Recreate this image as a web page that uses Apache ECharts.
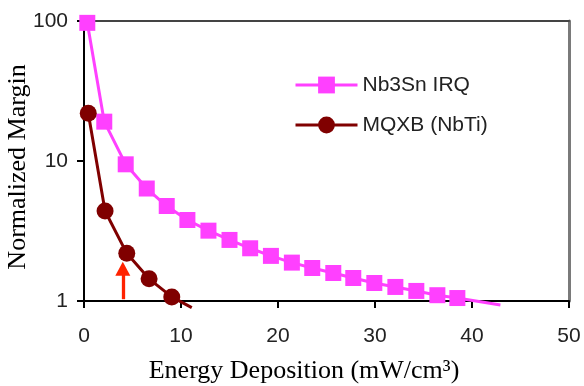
<!DOCTYPE html>
<html>
<head>
<meta charset="utf-8">
<script src="https://cdn.jsdelivr.net/npm/echarts@6/dist/echarts.min.js"></script>
<style>html,body{margin:0;padding:0;background:#fff}#c{width:584px;height:386px}</style>
</head>
<body>
<div id="c"></div>
<script>
// Data
const nb3snX = [0.34, 2.09, 4.30, 6.47, 8.53, 10.66, 12.83, 15.0, 17.13, 19.27, 21.43, 23.53, 25.70, 27.76, 29.93, 32.10, 34.26, 36.43, 38.49, 42.93];
const nb3snY = [97, 19.1, 9.47, 6.36, 4.77, 3.79, 3.18, 2.73, 2.38, 2.10, 1.88, 1.72, 1.585, 1.46, 1.345, 1.26, 1.18, 1.10, 1.05, 0.936];
const mqxbX = [0.44, 2.17, 4.41, 6.71, 9.05, 11.11];
const mqxbY = [21.9, 4.39, 2.19, 1.44, 1.07, 0.896];
const seriesNames = ['Nb3Sn IRQ', 'MQXB (NbTi)'];
const xTicks = [0, 10, 20, 30, 40, 50];
const yTicks = [1, 10, 100];
const arrowX = 4.0;
const arrowFrom = 1.03;
const arrowTo = 1.70;

function pairs(xs, ys) {
  return xs.map((x, i) => {
    const p = { value: [x, ys[i]] };
    if (i === xs.length - 1) p.symbol = 'none';
    return p;
  });
}

const chart = echarts.init(document.getElementById('c'), null, { renderer: 'canvas' });
const tickFont = { fontFamily: 'Liberation Sans', fontSize: 21, color: '#222' };
chart.setOption({
  animation: false,
  backgroundColor: '#fff',
  grid: { left: 84, right: 15, top: 21, bottom: 85, containLabel: false, outerBoundsMode: 'none' },
  legend: {
    orient: 'vertical',
    left: 289,
    top: 69.5,
    itemWidth: 62,
    itemHeight: 21,
    itemGap: 19,
    lineStyle: { width: 3 },
    textStyle: { fontFamily: 'Liberation Sans', fontSize: 21, color: '#222' },
    data: seriesNames
  },
  xAxis: [{
    type: 'value',
    min: xTicks[0], max: xTicks[xTicks.length - 1], interval: 10,
    name: 'Energy Deposition (mW/cm³)',
    nameLocation: 'middle',
    nameGap: 57,
    nameMoveOverlap: false,
    nameTextStyle: { fontFamily: 'Liberation Serif', fontSize: 26, color: '#000', padding: [0, 45, 0, 0] },
    axisLine: { show: true, lineStyle: { color: '#000', width: 2 } },
    axisTick: { show: true, inside: false, length: 7, lineStyle: { color: '#000', width: 2 } },
    axisLabel: Object.assign({ margin: 25 }, tickFont),
    splitLine: { show: false }
  }, {
    type: 'value', position: 'top',
    min: xTicks[0], max: xTicks[xTicks.length - 1],
    axisLine: { show: true, onZero: false, lineStyle: { color: '#444', width: 2 } },
    axisTick: { show: false }, axisLabel: { show: false }, splitLine: { show: false }
  }],
  yAxis: [{
    type: 'log', logBase: 10,
    min: yTicks[0], max: yTicks[yTicks.length - 1],
    name: 'Normalized Margin',
    nameLocation: 'middle',
    nameGap: 53,
    nameMoveOverlap: false,
    nameTextStyle: { fontFamily: 'Liberation Serif', fontSize: 26, color: '#000', padding: [0, 12, 0, 0] },
    axisLine: { show: true, lineStyle: { color: '#000', width: 2 } },
    axisTick: { show: true, inside: false, length: 7, lineStyle: { color: '#000', width: 2 } },
    axisLabel: Object.assign({ margin: 16 }, tickFont),
    splitLine: { show: false },
    minorTick: { show: false }
  }, {
    type: 'log', logBase: 10, position: 'right',
    min: yTicks[0], max: yTicks[yTicks.length - 1],
    axisLine: { show: true, onZero: false, lineStyle: { color: '#7a7a7a', width: 3 } },
    axisTick: { show: false }, axisLabel: { show: false }, splitLine: { show: false }
  }],
  series: [{
    name: seriesNames[0],
    type: 'line',
    clip: false,
    data: pairs(nb3snX, nb3snY),
    symbol: 'rect',
    symbolSize: 16,
    color: '#ff40ff',
    lineStyle: { color: '#ff40ff', width: 3 },
    itemStyle: { color: '#ff40ff' },
    z: 3
  }, {
    name: seriesNames[1],
    type: 'line',
    clip: false,
    data: pairs(mqxbX, mqxbY),
    symbol: 'circle',
    symbolSize: 17,
    color: '#800000',
    lineStyle: { color: '#800000', width: 3 },
    itemStyle: { color: '#800000' },
    z: 4,
    markLine: {
      silent: true,
      symbol: ['none', 'triangle'],
      symbolSize: [15, 14],
      label: { show: false },
      lineStyle: { color: '#ff2200', width: 3.3, type: 'solid' },
      emphasis: { disabled: true },
      data: [[{ coord: [arrowX, arrowFrom] }, { coord: [arrowX, arrowTo] }]]
    }
  }]
});
</script>
</body>
</html>
